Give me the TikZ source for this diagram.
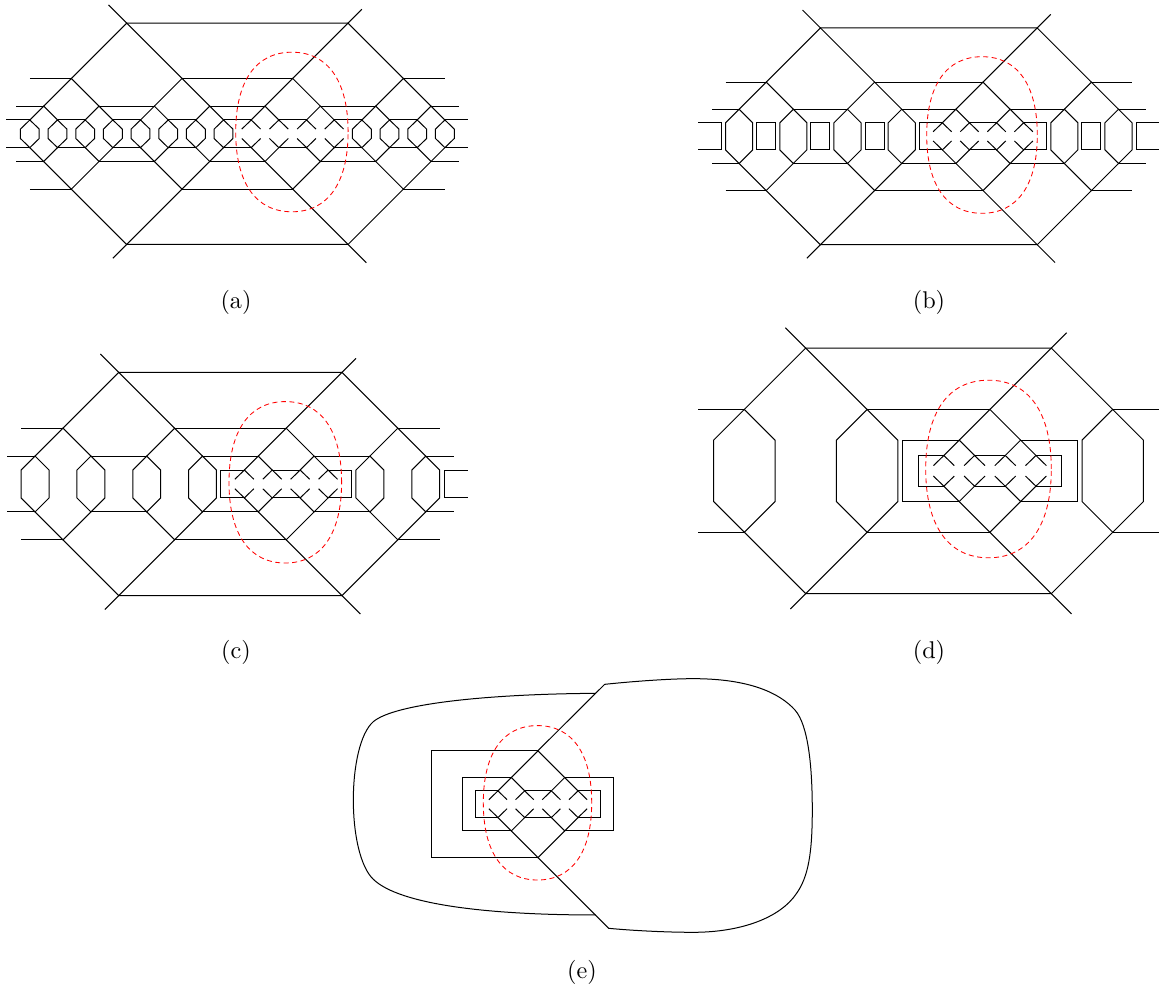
\documentclass[tikz,border=0pt]{standalone}
\tikzset{
  wire/.style={line width=1pt,black},
  redline/.style={line width=0.85pt,red,dash pattern=on 5pt off 3.5pt},
  caption/.style={inner sep=0pt,scale=2.42}
}
% all macros work in units of the small crossing spacing s
\newcommand{\corebase}{%
  \foreach \xx in {-1.5,-.5,.5,1.5}{
    \draw (\xx-.34,-.17) -- (\xx,-.5) -- (\xx+.34,-.17);
    \draw (\xx-.34,.17) -- (\xx,.5) -- (\xx+.34,.17);
  }
  \foreach \sg in {-1,1}{
    \draw (-.5,\sg*.5) -- (-1,\sg*1) -- (-1.5,\sg*.5);
    \draw (.5,\sg*.5) -- (1,\sg*1) -- (1.5,\sg*.5);
    \draw (-1,\sg*1) -- (0,\sg*2) -- (1,\sg*1);
    \draw (-.5,\sg*.5) -- (.5,\sg*.5);
  }
}
\newcommand{\innerrect}[1]{%
  \draw (-1.5,-.5) -- (-#1,-.5) -- (-#1,.5) -- (-1.5,.5);
  \draw (1.5,-.5) -- (#1,-.5) -- (#1,.5) -- (1.5,.5);
}
\newcommand{\outerframe}{%
  \draw (-6.66,-4.66) -- (-6,-4) -- (2,-4) -- (2.5,-4.5);
  \draw (-6.5,4.5) -- (-6,4) -- (2,4) -- (2.66,4.66);
  \foreach \sg in {-1,1}{
    \draw (-8,\sg*2) -- (-6,\sg*4) -- (-4,\sg*2);
    \draw (0,\sg*2) -- (2,\sg*4) -- (4,\sg*2);
    \draw (-9.5,\sg*2) -- (-8,\sg*2);
    \draw (-4,\sg*2) -- (0,\sg*2);
    \draw (4,\sg*2) -- (5.5,\sg*2);
  }
}
\newcommand{\thirdlevel}{%
  \foreach \sg in {-1,1}{
    \draw (-9,\sg*1) -- (-8,\sg*2) -- (-7,\sg*1);
    \draw (-5,\sg*1) -- (-4,\sg*2) -- (-3,\sg*1);
    \draw (3,\sg*1) -- (4,\sg*2) -- (5,\sg*1);
    \draw (-10,\sg*1) -- (-9,\sg*1);
    \draw (-7,\sg*1) -- (-5,\sg*1);
    \draw (-3,\sg*1) -- (-1,\sg*1);
    \draw (1,\sg*1) -- (3,\sg*1);
    \draw (5,\sg*1) -- (6,\sg*1);
  }
}
\newcommand{\widehex}{%
  \foreach \xx in {-9,-7,-5,-3,3,5}{
    \draw (\xx,-1) -- (\xx-.5,-.5) -- (\xx-.5,.5) -- (\xx,1) -- (\xx+.5,.5) -- (\xx+.5,-.5) -- cycle;
  }
}
\newcommand{\redloop}[4]{%
  \begin{scope}[shift={(#1,#2)},x=#3pt,y=#4pt]
    \draw[redline] (1,0) .. controls (1,.64) and (.64,1) .. (0,1)
      .. controls (-.64,1) and (-1,.64) .. (-1,0)
      .. controls (-1,-.64) and (-.64,-1) .. (0,-1)
      .. controls (.64,-1) and (1,-.64) .. (1,0) -- cycle;
  \end{scope}
}
\begin{document}
\begin{tikzpicture}[x=1pt,y=-1pt,wire]
\useasboundingbox (0,0) rectangle (1159,992);

% ---------- (a)
\begin{scope}[shift={(292.7,133.8)},x=27.67pt,y=-27.67pt]
  \corebase
  \outerframe
  \thirdlevel
  \foreach \xx in {-9.5,-8.5,-7.5,-6.5,-5.5,-4.5,-3.5,-2.5,2.5,3.5,4.5,5.5}{
    \draw (\xx,-.5) -- (\xx-.34,-.17) -- (\xx-.34,.17) -- (\xx,.5) -- (\xx+.34,.17) -- (\xx+.34,-.17) -- cycle;
  }
  \foreach \xx in {-9,-7,-5,-3,3,5}{
    \draw (\xx-.5,-.5) -- (\xx,-1) -- (\xx+.5,-.5);
    \draw (\xx-.5,.5) -- (\xx,1) -- (\xx+.5,.5);
  }
  \foreach \sg in {-1,1}{
    \draw (-10.35,\sg*.5) -- (-9.5,\sg*.5);
    \draw (-8.5,\sg*.5) -- (-7.5,\sg*.5);
    \draw (-6.5,\sg*.5) -- (-5.5,\sg*.5);
    \draw (-4.5,\sg*.5) -- (-3.5,\sg*.5);
    \draw (-2.5,\sg*.5) -- (-1.5,\sg*.5);
    \draw (1.5,\sg*.5) -- (2.5,\sg*.5);
    \draw (3.5,\sg*.5) -- (4.5,\sg*.5);
    \draw (5.5,\sg*.5) -- (6.35,\sg*.5);
  }
\end{scope}
\redloop{291.9}{132}{56.2}{79.8}
\node[caption] (capa) at (236,302) {(a)};

% ---------- (b)
\begin{scope}[shift={(983,136.35)},x=27.1pt,y=-27.1pt]
  \corebase
  \innerrect{2.35}
  \outerframe
  \thirdlevel
  \widehex
  \foreach \xx in {-8,-6,-4,4}{
    \draw (\xx-.35,-.5) rectangle (\xx+.35,.5);
  }
  \draw (-10.5,-.5) -- (-9.65,-.5) -- (-9.65,.5) -- (-10.5,.5);
  \draw (6.5,-.5) -- (5.65,-.5) -- (5.65,.5) -- (6.5,.5);
\end{scope}
\redloop{982}{135}{55.3}{78.3}
\node[caption] (capb) at (929,302) {(b)};

% ---------- (c)
\begin{scope}[shift={(286.2,484)},x=27.9pt,y=-27.9pt]
  \corebase
  \innerrect{2.34}
  \outerframe
  \thirdlevel
  \widehex
  \draw (6.5,-.5) -- (5.66,-.5) -- (5.66,.5) -- (6.5,.5);
\end{scope}
\redloop{285.3}{482.3}{56.3}{80.7}
\node[caption] (capc) at (236,652) {(c)};

% ---------- (d)
\begin{scope}[shift={(989.9,470.85)},x=30.7pt,y=-30.7pt]
  \corebase
  \innerrect{2.33}
  \outerframe
  \foreach \xx in {-8,-4,4}{
    \draw (\xx,-2) -- (\xx-1,-1) -- (\xx-1,1) -- (\xx,2) -- (\xx+1,1) -- (\xx+1,-1) -- cycle;
  }
  \draw (-1,-1) -- (-2.84,-1) -- (-2.84,1) -- (-1,1);
  \draw (1,-1) -- (2.84,-1) -- (2.84,1) -- (1,1);
\end{scope}
\redloop{988.5}{469}{62.8}{88.8}
\node[caption] (capd) at (929,652) {(d)};

% ---------- (e)
\begin{scope}[shift={(538,804.2)},x=26.7pt,y=-26.7pt]
  \corebase
  \innerrect{2.33}
  \draw (-1,-1) -- (-2.82,-1) -- (-2.82,1) -- (-1,1);
  \draw (1,-1) -- (2.82,-1) -- (2.82,1) -- (1,1);
  \draw (0,-2) -- (-4,-2) -- (-4,2) -- (0,2);
\end{scope}
\begin{scope}[shift={(340,670)},x=.3333pt,y=-.3333pt]
  \draw (594,242) -- (794,43)
    .. controls (900,32) and (1000,26) .. (1060,26)
    .. controls (1230,26) and (1320,70) .. (1365,120)
    .. controls (1405,165) and (1417,290) .. (1417,420)
    .. controls (1417,550) and (1405,620) .. (1370,670)
    .. controls (1320,745) and (1200,787) .. (1060,787)
    .. controls (980,787) and (880,782) .. (806,775)
    -- (594,563);
  \draw (767,70)
    .. controls (450,72) and (165,100) .. (100,155)
    .. controls (60,190) and (40,290) .. (40,390)
    .. controls (40,490) and (60,590) .. (100,628)
    .. controls (180,705) and (450,735) .. (767,735);
\end{scope}
\redloop{537.5}{802.8}{54.2}{77.2}
\node[caption] (cape) at (582,972) {(e)};
\end{tikzpicture}
\end{document}
